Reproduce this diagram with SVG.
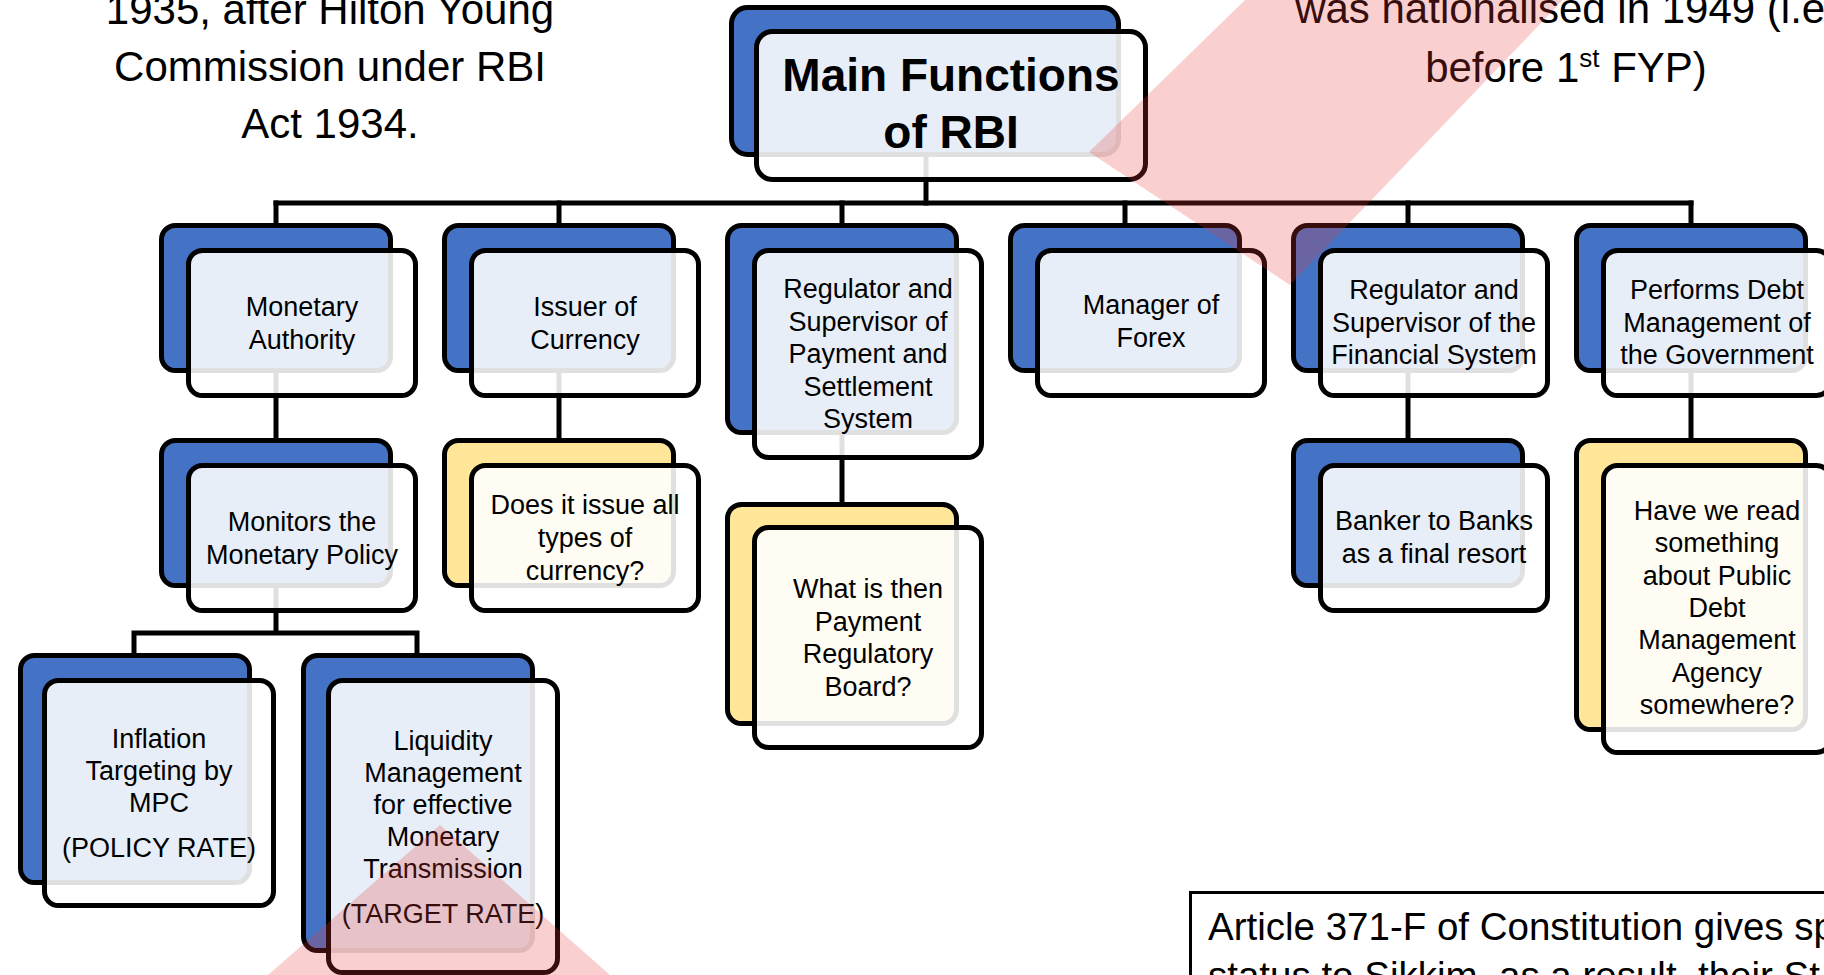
<svg xmlns="http://www.w3.org/2000/svg" width="1824" height="975" viewBox="0 0 1824 975">
  <style>
    .bg { fill: #ffffff; }
    .conn { stroke: #000; stroke-width: 5; fill: none; stroke-linecap: square; }
    .back-blue { fill: #4472C4; stroke: #000; stroke-width: 5; }
    .back-yellow { fill: #FFE699; stroke: #000; stroke-width: 5; }
    .front { fill: #ffffff; fill-opacity: 0.88; stroke: #000; stroke-width: 5; }
    .lbl { font-family: "Liberation Sans", Arial, sans-serif; font-size: 27px; fill: #000; text-anchor: middle; }
    .title { font-family: "Liberation Sans", Arial, sans-serif; font-size: 46px; font-weight: bold; fill: #000; text-anchor: middle; }
    .note { font-family: "Liberation Sans", Arial, sans-serif; font-size: 42px; fill: #000; text-anchor: middle; }
    .article { font-family: "Liberation Sans", Arial, sans-serif; font-size: 38.5px; fill: #000; }
    .mark { fill: #E53935; fill-opacity: 0.24; }
  </style>

  <rect class="bg" x="0" y="0" width="1824" height="975"/>

  <!-- free notes -->
  <g id="note-left">
    <text class="note" x="330" y="24">1935, after Hilton Young</text>
    <text class="note" x="330" y="81">Commission under RBI</text>
    <text class="note" x="330" y="138">Act 1934.</text>
  </g>
  <g id="note-right">
    <text class="note" x="1566" y="23">was nationalised in 1949 (i.e.</text>
    <text class="note" x="1566" y="82">before 1<tspan font-size="26" dy="-15">st</tspan><tspan dy="15"> FYP)</tspan></text>
  </g>

  <!-- connectors -->
  <g id="connectors">
    <path class="conn" d="M926 150 V203"/>
    <path class="conn" d="M276 203 H1691"/>
    <path class="conn" d="M276 203 V226 M559 203 V226 M842 203 V226 M1125 203 V226 M1408 203 V226 M1691 203 V226"/>
    <path class="conn" d="M276 366 V440"/>
    <path class="conn" d="M559 366 V440"/>
    <path class="conn" d="M842 428 V504"/>
    <path class="conn" d="M1408 366 V440"/>
    <path class="conn" d="M1691 366 V440"/>
    <path class="conn" d="M276 580 V633 M134 633 H417 M134 633 V655 M417 633 V655"/>
  </g>

  <!-- root -->
  <g id="main-functions">
    <rect class="back-blue" x="731.5" y="7.5" width="387" height="147" rx="16"/>
    <rect class="front" x="756.5" y="31.5" width="389" height="148" rx="16"/>
    <text class="title" x="951" y="91">Main Functions</text>
    <text class="title" x="951" y="148">of RBI</text>
  </g>

  <!-- first level -->
  <g id="monetary-authority">
    <rect class="back-blue" x="161.5" y="225.5" width="229" height="145" rx="14"/>
    <rect class="front" x="188.5" y="250.5" width="227" height="145" rx="14"/>
    <text class="lbl" x="302" y="316">Monetary</text>
    <text class="lbl" x="302" y="349">Authority</text>
  </g>

  <g id="issuer-of-currency">
    <rect class="back-blue" x="444.5" y="225.5" width="229" height="145" rx="14"/>
    <rect class="front" x="471.5" y="250.5" width="227" height="145" rx="14"/>
    <text class="lbl" x="585" y="316">Issuer of</text>
    <text class="lbl" x="585" y="349">Currency</text>
  </g>

  <g id="payment-settlement">
    <rect class="back-blue" x="727.5" y="225.5" width="229" height="207" rx="14"/>
    <rect class="front" x="754.5" y="250.5" width="227" height="207" rx="14"/>
    <text class="lbl" x="868" y="298">Regulator and</text>
    <text class="lbl" x="868" y="330.5">Supervisor of</text>
    <text class="lbl" x="868" y="363">Payment and</text>
    <text class="lbl" x="868" y="395.5">Settlement</text>
    <text class="lbl" x="868" y="428">System</text>
  </g>

  <g id="forex">
    <rect class="back-blue" x="1010.5" y="225.5" width="229" height="145" rx="14"/>
    <rect class="front" x="1037.5" y="250.5" width="227" height="145" rx="14"/>
    <text class="lbl" x="1151" y="314">Manager of</text>
    <text class="lbl" x="1151" y="347">Forex</text>
  </g>

  <g id="financial-system">
    <rect class="back-blue" x="1293.5" y="225.5" width="229" height="145" rx="14"/>
    <rect class="front" x="1320.5" y="250.5" width="227" height="145" rx="14"/>
    <text class="lbl" x="1434" y="299">Regulator and</text>
    <text class="lbl" x="1434" y="331.5">Supervisor of the</text>
    <text class="lbl" x="1434" y="364">Financial System</text>
  </g>

  <g id="debt-management">
    <rect class="back-blue" x="1576.5" y="225.5" width="229" height="145" rx="14"/>
    <rect class="front" x="1603.5" y="250.5" width="227" height="145" rx="14"/>
    <text class="lbl" x="1717" y="299">Performs Debt</text>
    <text class="lbl" x="1717" y="331.5">Management of</text>
    <text class="lbl" x="1717" y="364">the Government</text>
  </g>

  <!-- second level -->
  <g id="monitors-policy">
    <rect class="back-blue" x="161.5" y="440.5" width="229" height="145" rx="14"/>
    <rect class="front" x="188.5" y="465.5" width="227" height="145" rx="14"/>
    <text class="lbl" x="302" y="531">Monitors the</text>
    <text class="lbl" x="302" y="564">Monetary Policy</text>
  </g>

  <g id="all-currency">
    <rect class="back-yellow" x="444.5" y="440.5" width="229" height="145" rx="14"/>
    <rect class="front" x="471.5" y="465.5" width="227" height="145" rx="14"/>
    <text class="lbl" x="585" y="514">Does it issue all</text>
    <text class="lbl" x="585" y="547">types of</text>
    <text class="lbl" x="585" y="580">currency?</text>
  </g>

  <g id="payment-board">
    <rect class="back-yellow" x="727.5" y="504.5" width="229" height="219" rx="14"/>
    <rect class="front" x="754.5" y="527.5" width="227" height="220" rx="14"/>
    <text class="lbl" x="868" y="598">What is then</text>
    <text class="lbl" x="868" y="630.5">Payment</text>
    <text class="lbl" x="868" y="663">Regulatory</text>
    <text class="lbl" x="868" y="695.5">Board?</text>
  </g>

  <g id="banker-to-banks">
    <rect class="back-blue" x="1293.5" y="440.5" width="229" height="145" rx="14"/>
    <rect class="front" x="1320.5" y="465.5" width="227" height="145" rx="14"/>
    <text class="lbl" x="1434" y="530">Banker to Banks</text>
    <text class="lbl" x="1434" y="563">as a final resort</text>
  </g>

  <g id="public-debt-agency">
    <rect class="back-yellow" x="1576.5" y="440.5" width="229" height="289" rx="14"/>
    <rect class="front" x="1603.5" y="465.5" width="227" height="287" rx="14"/>
    <text class="lbl" x="1717" y="520">Have we read</text>
    <text class="lbl" x="1717" y="552.3">something</text>
    <text class="lbl" x="1717" y="584.6">about Public</text>
    <text class="lbl" x="1717" y="617">Debt</text>
    <text class="lbl" x="1717" y="649.3">Management</text>
    <text class="lbl" x="1717" y="681.6">Agency</text>
    <text class="lbl" x="1717" y="714">somewhere?</text>
  </g>

  <!-- third level -->
  <g id="inflation-targeting">
    <rect class="back-blue" x="20.5" y="655.5" width="229" height="227" rx="14"/>
    <rect class="front" x="44.5" y="680.5" width="229" height="225" rx="14"/>
    <text class="lbl" x="159" y="748">Inflation</text>
    <text class="lbl" x="159" y="780">Targeting by</text>
    <text class="lbl" x="159" y="812">MPC</text>
    <text class="lbl" x="159" y="857">(POLICY RATE)</text>
  </g>

  <g id="liquidity-management">
    <rect class="back-blue" x="303.5" y="655.5" width="229" height="295" rx="14"/>
    <rect class="front" x="328.5" y="680.5" width="229" height="292" rx="14"/>
    <text class="lbl" x="443" y="750">Liquidity</text>
    <text class="lbl" x="443" y="782">Management</text>
    <text class="lbl" x="443" y="814">for effective</text>
    <text class="lbl" x="443" y="846">Monetary</text>
    <text class="lbl" x="443" y="878">Transmission</text>
    <text class="lbl" x="443" y="923">(TARGET RATE)</text>
  </g>

  <!-- article note box -->
  <g id="article-note">
    <rect x="1190.5" y="892.5" width="700" height="200" fill="#ffffff" stroke="#000" stroke-width="3"/>
    <text class="article" x="1208" y="940">Article 371-F of Constitution gives sp</text>
    <text class="article" x="1208" y="989">status to Sikkim, as a result, their St</text>
  </g>

  <!-- translucent red logo marks laid over the page -->
  <g id="logo-marks">
    <polygon class="mark" points="1245,0 1089,152 1290,285 1563,0"/>
    <polygon class="mark" points="268,975 440,825 610,975"/>
  </g>
</svg>
